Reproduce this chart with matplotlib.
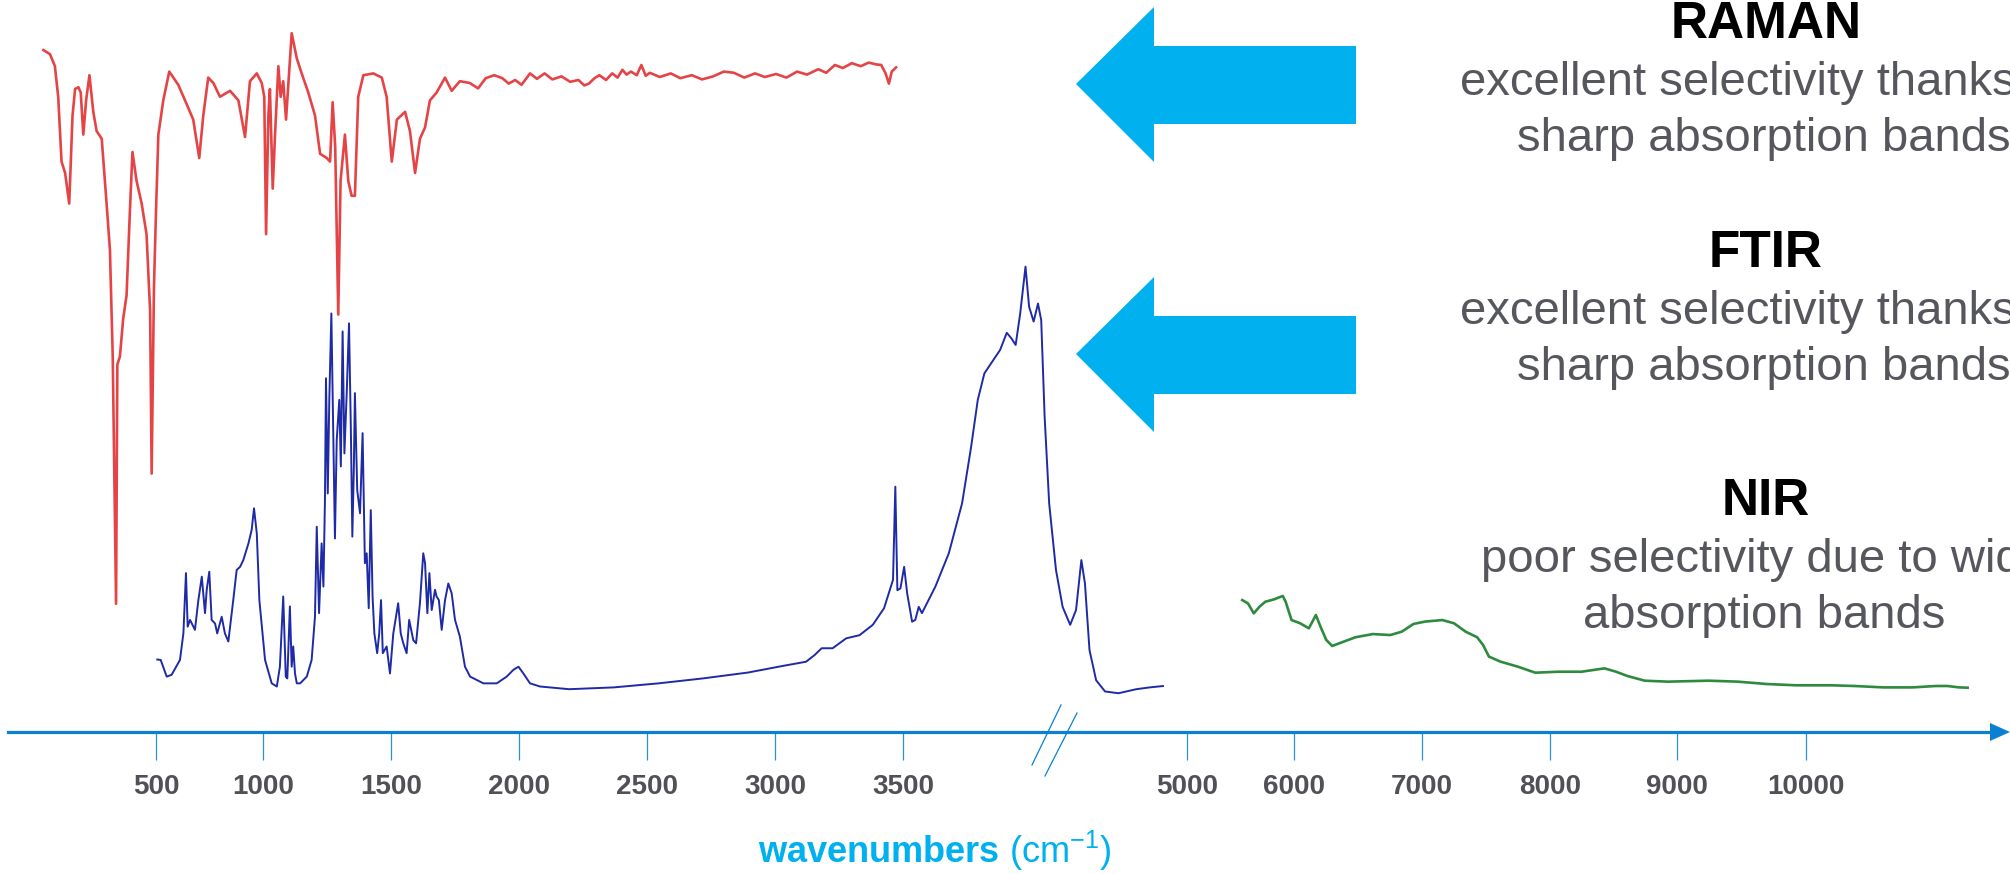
import numpy as np
import matplotlib
matplotlib.use("Agg")
import matplotlib.pyplot as plt
from matplotlib.patches import Polygon
from matplotlib.lines import Line2D

plt.rcParams['font.family'] = ['Liberation Sans', 'DejaVu Sans']
plt.rcParams['mathtext.fontset'] = 'custom'
plt.rcParams['mathtext.rm'] = 'Liberation Sans'
plt.rcParams['mathtext.bf'] = 'Liberation Sans:bold'

# ---------------- data ----------------
TICKS = [500, 1000, 1500, 2000, 2500, 3000, 3500, 5000, 6000, 7000, 8000, 9000, 10000]
TICK_LABELS = [str(t) for t in TICKS]

RAMAN_WN = [60, 86, 105, 118, 131, 145, 161, 174, 184, 197,
            206, 216, 227, 240, 255, 268, 288, 307, 320, 331,
            344, 349, 359, 372, 385, 398, 408, 424, 444, 463,
            477, 483, 492, 500, 511, 534, 562, 581, 604, 643,
            674, 702, 721, 744, 768, 799, 846, 885, 916, 939,
            971, 994, 1005, 1012, 1021, 1027, 1038, 1047, 1060, 1069,
            1079, 1090, 1112, 1132, 1151, 1177, 1203, 1223, 1249, 1262,
            1272, 1282, 1294, 1303, 1320, 1333, 1346, 1359, 1372, 1392,
            1431, 1464, 1483, 1503, 1523, 1555, 1574, 1594, 1613, 1633,
            1652, 1678, 1711, 1737, 1769, 1808, 1840, 1870, 1903, 1935,
            1960, 1985, 2010, 2043, 2070, 2100, 2130, 2166, 2200, 2232,
            2255, 2273, 2295, 2314, 2340, 2364, 2385, 2404, 2420, 2437,
            2460, 2478, 2495, 2511, 2550, 2593, 2630, 2675, 2715, 2758,
            2800, 2840, 2880, 2922, 2960, 3004, 3045, 3086, 3125, 3169,
            3200, 3234, 3265, 3300, 3335, 3366, 3395, 3415, 3432, 3445,
            3456, 3473]
RAMAN_INT = [95.0, 94.3, 92.3, 87.2, 76.4, 74.5, 69.4, 84.1, 88.5, 88.8,
             87.9, 80.9, 86.6, 90.8, 84.7, 81.5, 80.2, 69.4, 61.7, 43.9,
             2.7, 42.6, 43.9, 50.3, 54.1, 68.1, 78.0, 73.2, 69.4, 64.3,
             51.5, 24.4, 55.4, 68.1, 80.9, 86.6, 91.4, 90.4, 89.2, 86.0,
             83.4, 77.0, 84.1, 90.4, 89.5, 87.2, 88.2, 86.6, 80.5, 89.8,
             91.1, 89.5, 87.2, 64.3, 84.1, 88.5, 71.9, 80.9, 92.3, 87.2,
             89.8, 83.4, 97.8, 93.6, 91.1, 87.9, 84.1, 77.7, 77.0, 76.4,
             86.3, 78.9, 50.9, 73.2, 80.9, 73.2, 70.7, 70.7, 87.2, 90.8,
             91.1, 90.4, 87.2, 76.4, 83.4, 84.7, 81.5, 74.5, 80.2, 82.1,
             86.6, 87.9, 90.4, 88.2, 89.8, 89.5, 88.6, 90.3, 90.8, 90.3,
             89.4, 90.0, 89.2, 91.1, 90.2, 91.1, 90.1, 90.6, 89.7, 90.0,
             89.1, 89.4, 90.3, 90.8, 90.0, 91.1, 90.4, 91.7, 90.9, 91.4,
             90.8, 92.5, 90.7, 91.2, 90.5, 91.1, 90.3, 90.8, 90.1, 90.6,
             91.4, 91.2, 90.4, 91.1, 90.5, 91.0, 90.4, 91.4, 90.9, 91.8,
             91.2, 92.5, 92.0, 92.8, 92.3, 92.9, 92.6, 92.5, 91.1, 89.4,
             91.4, 92.1]

FTIR_WN = [506, 522, 550, 573, 612, 628, 640, 648, 659, 682,
           698, 714, 729, 737, 749, 760, 776, 786, 807, 822,
           838, 861, 877, 893, 908, 932, 947, 958, 971, 983,
           1008, 1034, 1054, 1066, 1079, 1089, 1095, 1105, 1112, 1118,
           1125, 1132, 1145, 1171, 1190, 1203, 1210, 1219, 1229, 1236,
           1242, 1246, 1253, 1259, 1267, 1275, 1281, 1288, 1298, 1304,
           1311, 1318, 1327, 1336, 1343, 1349, 1355, 1359, 1368, 1379,
           1389, 1398, 1405, 1413, 1421, 1428, 1435, 1446, 1454, 1461,
           1468, 1483, 1496, 1509, 1528, 1538, 1548, 1561, 1571, 1587,
           1598, 1613, 1626, 1633, 1642, 1650, 1659, 1672, 1678, 1687,
           1698, 1711, 1724, 1737, 1750, 1769, 1789, 1809, 1861, 1913,
           1952, 1978, 1998, 2017, 2043, 2082, 2196, 2370, 2545, 2719,
           2894, 3033, 3121, 3155, 3182, 3225, 3278, 3330, 3382, 3426,
           3448, 3461, 3470, 3478, 3490, 3506, 3522, 3548, 3565, 3583,
           3600, 3671, 3742, 3812, 3860, 3895, 3930, 3978, 4013, 4048,
           4072, 4095, 4119, 4147, 4166, 4190, 4213, 4230, 4248, 4272,
           4308, 4343, 4383, 4414, 4442, 4461, 4485, 4520, 4567, 4638,
           4732, 4803, 4873]
FTIR_ABS = [9.0, 8.9, 5.2, 5.6, 8.9, 14.8, 28.2, 16.3, 17.8, 15.6,
            22.2, 27.4, 19.3, 24.5, 28.5, 17.8, 17.0, 14.8, 18.5, 14.8,
            13.0, 22.2, 28.9, 29.6, 31.1, 34.8, 37.8, 42.6, 37.0, 22.2,
            8.9, 3.7, 3.0, 7.4, 23.0, 5.2, 4.8, 20.8, 7.4, 11.9,
            5.9, 3.7, 3.7, 5.2, 8.9, 18.5, 38.5, 19.3, 34.8, 25.2,
            44.5, 71.5, 45.9, 66.7, 85.9, 57.8, 35.9, 57.8, 66.7, 51.9,
            81.9, 54.8, 68.2, 83.7, 60.8, 36.3, 51.9, 68.2, 46.7, 41.5,
            59.3, 30.4, 32.6, 20.4, 42.2, 23.0, 14.8, 10.4, 14.8, 22.2,
            10.4, 11.9, 5.9, 14.8, 21.5, 14.8, 12.6, 10.4, 17.8, 13.3,
            12.6, 21.5, 32.6, 30.4, 19.3, 28.2, 20.0, 24.5, 23.0, 22.2,
            15.6, 22.2, 25.9, 23.7, 17.8, 14.1, 7.4, 5.2, 3.7, 3.7,
            5.2, 6.7, 7.4, 5.9, 3.7, 3.0, 2.4, 2.8, 3.7, 4.8,
            6.1, 7.6, 8.5, 10.0, 11.5, 11.5, 13.7, 14.4, 16.7, 20.4,
            24.4, 26.7, 47.4, 24.4, 24.8, 29.6, 23.7, 17.4, 17.8, 20.7,
            19.3, 25.2, 32.6, 43.7, 56.3, 66.7, 72.6, 75.6, 77.8, 81.6,
            80.4, 78.9, 85.9, 96.3, 87.4, 84.1, 88.1, 84.4, 63.0, 43.7,
            28.9, 20.7, 16.7, 20.0, 31.1, 25.9, 11.1, 4.4, 1.9, 1.5,
            2.4, 2.8, 3.1]

NIR_WN = [5516, 5570, 5624, 5678, 5732, 5814, 5895, 5922, 5977, 6048,
          6116, 6171, 6207, 6252, 6298, 6389, 6480, 6616, 6752, 6842,
          6933, 7023, 7159, 7250, 7341, 7431, 7477, 7523, 7613, 7749,
          7885, 8066, 8248, 8429, 8520, 8611, 8746, 8928, 9245, 9472,
          9698, 9925, 10198, 10380, 10606, 10833, 11014, 11105, 11196, 11263]
NIR_ABS = [71.4, 69.0, 61.9, 66.7, 70.2, 71.9, 74.3, 70.2, 57.1, 54.8,
           51.2, 60.7, 52.4, 42.9, 38.6, 41.7, 44.8, 47.1, 46.4, 48.8,
           54.3, 56.0, 57.1, 54.8, 48.8, 44.8, 39.3, 31.0, 27.4, 23.8,
           19.5, 20.2, 20.2, 22.6, 20.2, 17.1, 13.8, 13.1, 13.8, 13.1,
           11.4, 10.5, 10.5, 10.0, 9.0, 9.0, 10.0, 10.0, 9.0, 8.8]

# ---------------- layout / style ----------------
W, H = 2010, 874
# broken wavenumber axis: anchor wavenumbers -> horizontal position (px)
AX_WN = [-110, 0, 500, 1000, 1500, 2000, 2500, 3000, 3500, 5000,
         6000, 7000, 8000, 9000, 10000, 11594]
AX_PX = [0, 28, 156, 263, 391, 519, 647, 775, 903, 1187,
         1294, 1422, 1550, 1677, 1806, 2010]


def wn_to_pos(w):
    return np.interp(w, AX_WN, AX_PX)


def pos_to_wn(p):
    return np.interp(p, AX_PX, AX_WN)


def F(x, row):
    return (x / W, 1 - row / H)


AXIS_BLUE = '#0a80d2'
TICK_BLUE = '#2a90d8'
CYAN = '#00b0ef'
GRAY = '#55575c'

fig = plt.figure(figsize=(W / 100, H / 100), dpi=100)
fig.patch.set_facecolor('white')

# main axis
ax = fig.add_axes([0, 0, 1, 1])
ax.set_xscale('function', functions=(wn_to_pos, pos_to_wn))
ax.set_xlim(AX_WN[0], AX_WN[-1])
ax.set_ylim(0, H)
ax.patch.set_alpha(0)
for s in ['top', 'left', 'right']:
    ax.spines[s].set_visible(False)
ax.spines['bottom'].set_position(('data', H - 732))
ax.spines['bottom'].set_color(AXIS_BLUE)
ax.spines['bottom'].set_linewidth(2.3)
ax.spines['bottom'].set_bounds(pos_to_wn(8), pos_to_wn(1996))
ax.set_yticks([])
ax.set_xticks(TICKS)
ax.set_xticklabels(TICK_LABELS)
ax.xaxis.set_minor_locator(matplotlib.ticker.NullLocator())
ax.tick_params(axis='x', direction='out', length=20, width=0.9,
               color=TICK_BLUE, pad=10, labelsize=20, labelcolor='#4f5156')
for lbl in ax.get_xticklabels():
    lbl.set_fontweight('bold')

# axis arrow head
fig.add_artist(Polygon([F(1990, 723), F(2010, 732), F(1990, 741)], closed=True,
                       transform=fig.transFigure, facecolor=AXIS_BLUE,
                       edgecolor='none'))
# axis break marks
for (x0, y0, x1, y1) in [(1061, 705, 1032, 765), (1077, 713, 1045, 776)]:
    p0, p1 = F(x0, y0), F(x1, y1)
    fig.add_artist(Line2D([p0[0], p1[0]], [p0[1], p1[1]],
                          transform=fig.transFigure, color=AXIS_BLUE, lw=0.9))

# axis title
fig.text(935 / W, 1 - 863 / H, r'$\mathbf{wavenumbers}$ (cm$^{-1}$)',
         ha='center', va='baseline', fontsize=26, color=CYAN)


def spectrum_axes(row_top, row_bottom):
    a = fig.add_axes([0, (H - row_bottom) / H, 1, (row_bottom - row_top) / H])
    a.set_xscale('function', functions=(wn_to_pos, pos_to_wn))
    a.set_xlim(AX_WN[0], AX_WN[-1])
    a.set_ylim(0, 100)
    a.axis('off')
    return a


ax_ftir = spectrum_axes(250, 700)
ax_ftir.plot(FTIR_WN, FTIR_ABS, color='#1f2aa6', lw=1.4, clip_on=False,
             solid_joinstyle='round')

ax_raman = spectrum_axes(20, 620)
ax_raman.plot(RAMAN_WN, RAMAN_INT, color='#e43a3c', lw=1.9, clip_on=False,
              solid_joinstyle='round', alpha=0.95)

ax_nir = spectrum_axes(560, 700)
ax_nir.plot(NIR_WN, NIR_ABS, color='#2e8b3d', lw=1.9, clip_on=False,
            solid_joinstyle='round')

# big arrows
for dy in [0, 270]:
    pts = [(1076, 84), (1154, 7), (1154, 46), (1356, 46), (1356, 124),
           (1154, 124), (1154, 162)]
    fig.add_artist(Polygon([F(x, y + dy) for x, y in pts], closed=True,
                           transform=fig.transFigure, facecolor=CYAN,
                           edgecolor='none'))

# text blocks (the reference runs these lines off the right edge)
BLOCKS = [
    ('RAMAN', 38, ['excellent selectivity thanks to', 'sharp absorption bands']),
    ('FTIR', 267, ['excellent selectivity thanks to', 'sharp absorption bands']),
    ('NIR', 515, ['poor selectivity due to wide', 'absorption bands']),
]
for title, base, lines in BLOCKS:
    fig.text(1766 / W, 1 - base / H, title, ha='center', va='baseline',
             fontsize=37, fontweight='bold', color='black')
    for i, line in enumerate(lines):
        fig.text(1764 / W, 1 - (base + 57 + 56 * i) / H, line, ha='center',
                 va='baseline', fontsize=34, color=GRAY)

fig.savefig('out.png', dpi=100)
